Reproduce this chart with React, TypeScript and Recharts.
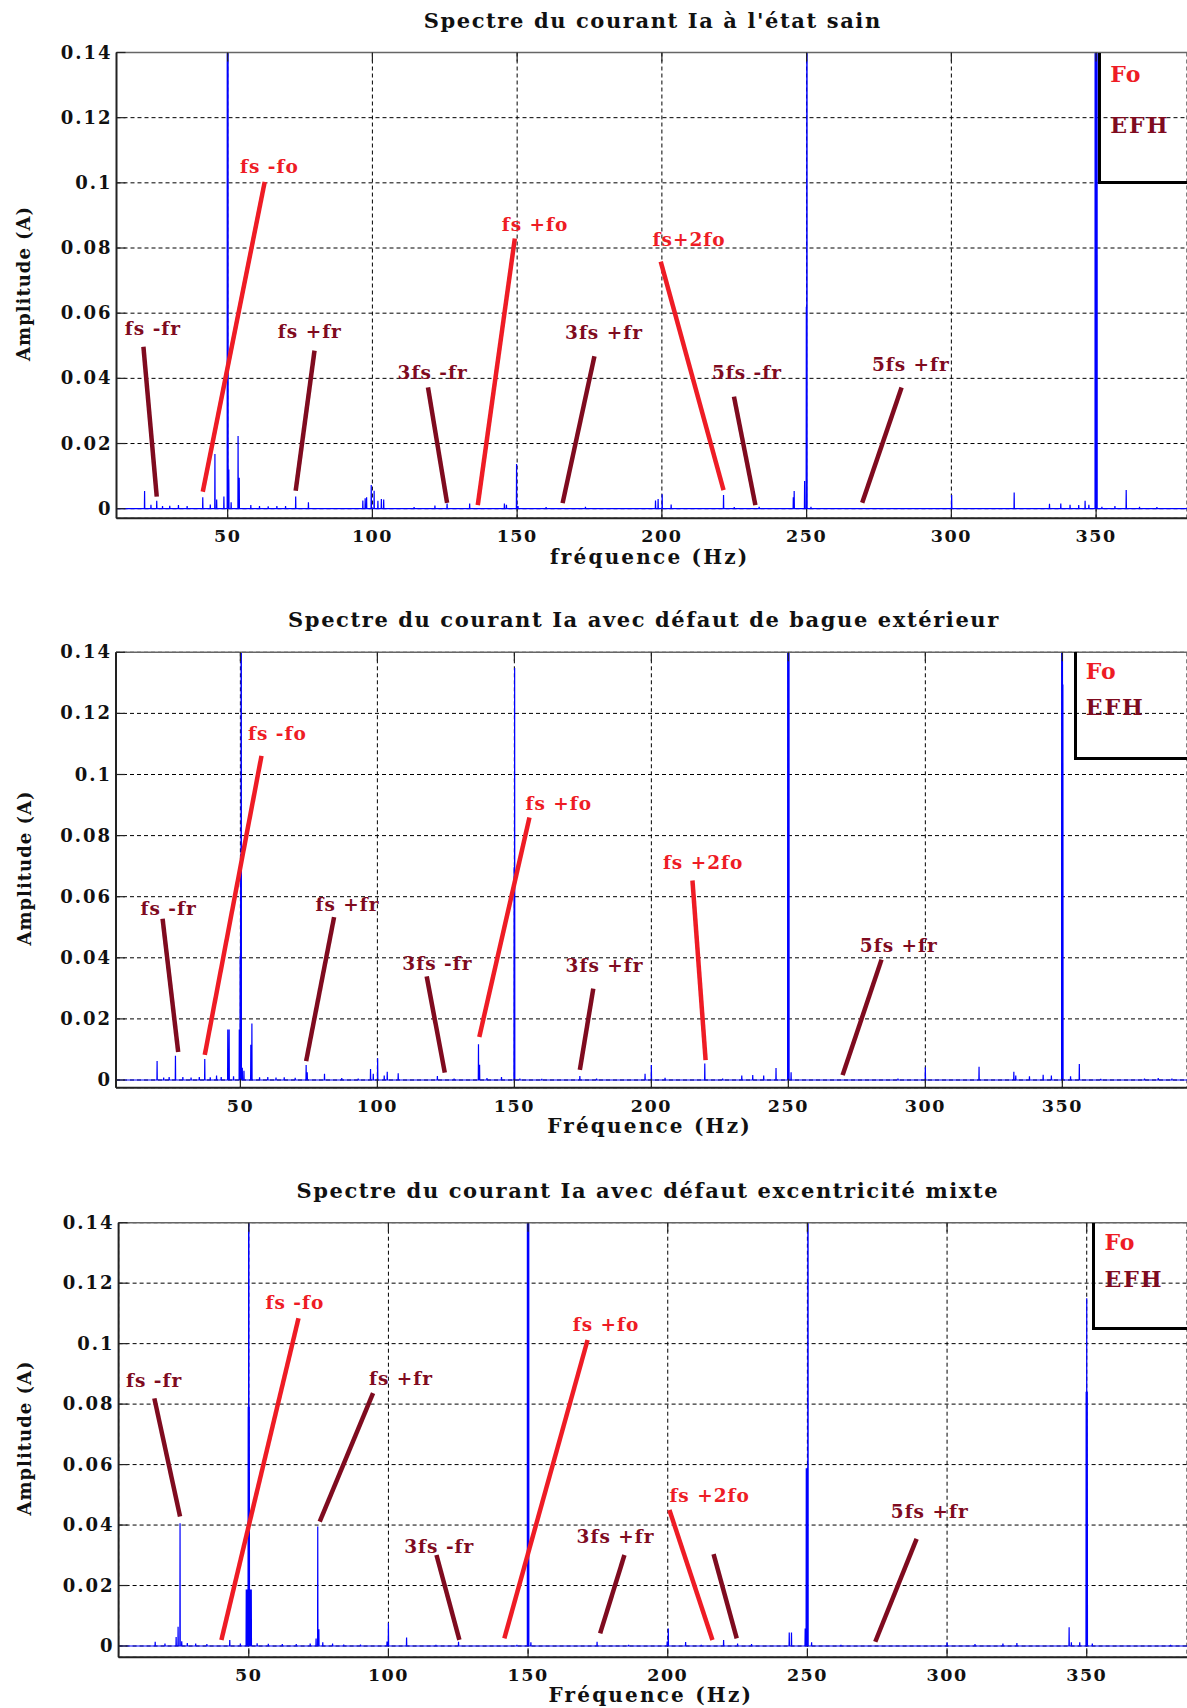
import React from 'react';
import { LineChart, Line, XAxis, YAxis, CartesianGrid, ReferenceLine, ReferenceDot } from 'recharts';

const FONT = '"DejaVu Serif", "Liberation Serif", serif';
const BLUE = '#0000ff';
const RED = '#ee1c25';
const DARK = '#7f0b1f';

const freqTicks = [50, 100, 150, 200, 250, 300, 350];
const ampTicks = [0, 0.02, 0.04, 0.06, 0.08, 0.1, 0.12, 0.14];

// spectral peaks [Hz, A] (0.5 = clipped, above the frame)
const sainPeaks: [number, number][] = [
  [21.3, 0.0054], [23.5, 0.0012], [25.5, 0.0024], [27.5, 0.0008], [30, 0.0009], [33, 0.0011], [36, 0.0008],
  [41.4, 0.0035], [44, 0.0013], [45.6, 0.0168], [46.2, 0.0028], [48.7, 0.0037], [49.9, 0.5], [50.1, 0.5],
  [50.4, 0.012], [51.2, 0.002], [53.6, 0.0223], [54.0, 0.0095], [58, 0.0011], [61, 0.0008], [64, 0.0007],
  [67, 0.0008], [70, 0.0008], [73.5, 0.0037], [77.9, 0.002], [96.7, 0.0025], [97.5, 0.0032], [98.0, 0.0035],
  [99.6, 0.0073], [100.6, 0.0055], [101.9, 0.0024], [103.1, 0.003], [103.9, 0.0028], [114.4, 0.0005],
  [121.6, 0.001], [125.8, 0.0016], [133.6, 0.0016], [145.6, 0.0016], [146.3, 0.0012], [149.8, 0.0137],
  [150.3, 0.0008], [160, 0.0005], [173.6, 0.0006], [197.8, 0.0025], [198.7, 0.003], [200.1, 0.0044],
  [203.2, 0.0013], [221.3, 0.0042], [225, 0.0005], [233.6, 0.0006], [245.4, 0.0035], [245.7, 0.0054],
  [249.3, 0.0085], [249.9, 0.062], [250.1, 0.5], [251.5, 0.0006], [300.1, 0.0042], [321.7, 0.005],
  [333.9, 0.0015], [337.8, 0.0016], [341, 0.0012], [344, 0.0011], [346.2, 0.0024], [347.5, 0.0012],
  [349.7, 0.5], [350, 0.5], [350.3, 0.5], [352, 0.0006], [356.5, 0.0008], [360.4, 0.0057], [365, 0.0006],
  [371, 0.0005],
];

const baguePeaks: [number, number][] = [
  [19.6, 0.0062], [22, 0.0008], [24, 0.001], [26.3, 0.0079], [29, 0.001], [32, 0.0008], [35, 0.001],
  [37.0, 0.0069], [39, 0.0009], [41.3, 0.0015], [43, 0.001], [45.4, 0.0165], [45.9, 0.0165], [47.5, 0.0012],
  [49.6, 0.0165], [49.9, 0.0405], [50.1, 0.074], [50.3, 0.5], [50.7, 0.004], [51.3, 0.003], [53.8, 0.0115],
  [54.2, 0.0185], [57, 0.0009], [60, 0.001], [63, 0.0008], [66, 0.0009], [70, 0.0007], [74.0, 0.0049],
  [74.4, 0.0025], [80.7, 0.002], [87, 0.0006], [93, 0.0005], [97.5, 0.0036], [98.5, 0.002], [100.1, 0.0071],
  [102.5, 0.0015], [103.6, 0.0027], [107.6, 0.0022], [121.9, 0.0013], [128, 0.0005], [136.9, 0.0117],
  [137.3, 0.005], [140, 0.0006], [145.3, 0.001], [149.9, 0.0696], [150.1, 0.1349], [152, 0.0005],
  [160, 0.0004], [173.9, 0.0013], [180, 0.0005], [197.7, 0.002], [200, 0.0049], [205, 0.0007],
  [219.5, 0.0054], [226, 0.0005], [233, 0.0015], [237, 0.0016], [241, 0.0015], [245.5, 0.0039],
  [249.8, 0.5], [250, 0.5], [250.2, 0.5], [251, 0.0025], [290, 0.0005], [300, 0.0042], [319.6, 0.0043],
  [332.3, 0.0027], [333, 0.0015], [338, 0.0012], [343, 0.0017], [346, 0.0015], [349.8, 0.5], [350, 0.5],
  [350.2, 0.1295], [353, 0.0012], [356.2, 0.0052], [364, 0.0004], [380, 0.0005], [385, 0.0006], [390, 0.0005],
];

const mixtePeaks: [number, number][] = [
  [16.5, 0.0014], [20, 0.0008], [24.0, 0.003], [24.7, 0.0064], [25.4, 0.0406], [26, 0.0016], [28, 0.001],
  [31, 0.0008], [35, 0.0006], [43.2, 0.002], [47, 0.0008], [49.1, 0.0187], [49.4, 0.0187], [49.8, 0.0791],
  [50, 0.5], [50.2, 0.0791], [50.6, 0.0187], [50.9, 0.0187], [53, 0.0009], [57, 0.0007], [62, 0.0006],
  [67, 0.0006], [72, 0.0008], [74.1, 0.0025], [74.7, 0.0395], [75.1, 0.0055], [76.5, 0.0012], [80, 0.0008],
  [84, 0.0005], [90, 0.0005], [99.5, 0.0015], [100, 0.0077], [106.5, 0.0028], [117, 0.0004], [125.1, 0.0014],
  [146, 0.0004], [149.8, 0.5], [150, 0.5], [150.2, 0.5], [151, 0.0012], [174.7, 0.0014], [186, 0.0004],
  [199.8, 0.0015], [200.2, 0.0058], [206.4, 0.0013], [212, 0.0004], [220, 0.002], [225, 0.0008], [230, 0.0006],
  [243.5, 0.0045], [244.3, 0.0045], [249.2, 0.0058], [249.6, 0.0588], [249.9, 0.0588], [250.2, 0.5],
  [251.5, 0.0012], [262, 0.0004], [300, 0.0012], [310, 0.0006], [320, 0.0008], [325, 0.001], [343.7, 0.0062],
  [344.5, 0.0012], [347.5, 0.0012], [349.8, 0.0841], [350, 0.115], [350.2, 0.0841], [352, 0.0008], [380, 0.0004],
];

// annotation pointers in data units: [text, kind, x1, y1, x2, y2, labelX, labelY]
type Note = [string, 'fo' | 'fr', number, number, number, number, number, number];

const sainNotes: Note[] = [
  ['fs -fr', 'fr', 20.9, 0.0497, 25.5, 0.0037, 24.2, 0.0551],
  ['fs -fo', 'fo', 62.8, 0.1003, 41.4, 0.0052, 64.4, 0.1049],
  ['fs +fr', 'fr', 80.0, 0.0485, 73.5, 0.0055, 78.4, 0.0541],
  ['3fs -fr', 'fr', 119.2, 0.0372, 125.8, 0.0018, 120.8, 0.0415],
  ['fs +fo', 'fo', 149.2, 0.0829, 136.4, 0.0011, 156.2, 0.087],
  ['3fs +fr', 'fr', 176.7, 0.0468, 165.7, 0.0017, 180, 0.0538],
  ['fs+2fo', 'fo', 199.6, 0.0758, 221.3, 0.0057, 209.4, 0.0824],
  ['5fs -fr', 'fr', 224.9, 0.0344, 232.3, 0.0011, 229.4, 0.0417],
  ['5fs +fr', 'fr', 282.8, 0.0372, 269.2, 0.0018, 286, 0.0441],
];

const bagueNotes: Note[] = [
  ['fs -fr', 'fr', 21.6, 0.0528, 27.3, 0.0092, 23.8, 0.056],
  ['fs -fo', 'fo', 57.7, 0.1061, 37.0, 0.0082, 63.5, 0.1132],
  ['fs +fr', 'fr', 84.2, 0.0533, 74.0, 0.0062, 89.1, 0.0574],
  ['3fs -fr', 'fr', 118, 0.0339, 124.6, 0.0024, 121.9, 0.0379],
  ['fs +fo', 'fo', 155.5, 0.0859, 137.2, 0.0141, 166.2, 0.0903],
  ['3fs +fr', 'fr', 178.8, 0.0299, 173.9, 0.0033, 182.9, 0.0372],
  ['fs +2fo', 'fo', 215, 0.0653, 219.8, 0.0065, 218.9, 0.0711],
  ['5fs +fr', 'fr', 284, 0.0394, 269.8, 0.0016, 290.3, 0.0438],
];

const mixteNotes: Note[] = [
  ['fs -fr', 'fr', 16.2, 0.0819, 25.4, 0.0428, 16.1, 0.0876],
  ['fs -fo', 'fo', 67.8, 0.1084, 40.2, 0.002, 66.5, 0.1133],
  ['fs +fr', 'fr', 94.5, 0.0836, 75.4, 0.0411, 104.5, 0.0883],
  ['3fs -fr', 'fr', 117.2, 0.0301, 125.4, 0.002, 118.2, 0.0326],
  ['fs +fo', 'fo', 171.3, 0.1012, 141.5, 0.0025, 177.9, 0.1062],
  ['3fs +fr', 'fr', 184.5, 0.0301, 175.8, 0.0042, 181.3, 0.0359],
  ['fs +2fo', 'fo', 200.6, 0.045, 216, 0.002, 215, 0.0496],
  ['', 'fr', 216.4, 0.0304, 224.7, 0.0025, 0, 0],
  ['5fs +fr', 'fr', 289.1, 0.0354, 274.3, 0.0014, 293.8, 0.0444],
];

// turn the peak list into a polyline: zero baseline with a narrow spike per bin
const spectrum = (peaks: [number, number][], lo: number, hi: number) => {
  const sorted = [...peaks].sort((a, b) => a[0] - b[0]);
  const pts = [{ f: lo, a: 0 }];
  sorted.forEach(([f, a]) => {
    pts.push({ f: f - 0.07, a: 0 }, { f, a }, { f: f + 0.07, a: 0 });
  });
  pts.push({ f: hi, a: 0 });
  return pts;
};

const fmt = (v: number) => String(Number(v.toFixed(2)));

const XTick = (props: any) => {
  const { x, y, payload } = props;
  return (
    <g>
      <line x1={x} x2={x} y1={y} y2={y - 9} stroke="#222" strokeWidth={1.2} />
      <text x={x} y={y + 24} textAnchor="middle" fontFamily={FONT} fontWeight="bold" fontSize={17.5}
        letterSpacing={1.5} fill="#111">{payload.value}</text>
    </g>
  );
};

const TopTick = (props: any) => {
  const { x, y } = props;
  return <line x1={x} x2={x} y1={y} y2={y + 9} stroke="#222" strokeWidth={1.2} />;
};

const YTick = (props: any) => {
  const { x, y, payload } = props;
  return (
    <g>
      <line x1={x} x2={x + 9} y1={y} y2={y} stroke="#222" strokeWidth={1.2} />
      <text x={x - 4} y={y + 6} textAnchor="end" fontFamily={FONT} fontWeight="bold" fontSize={18}
        letterSpacing={2} fill="#111">{fmt(payload.value)}</text>
    </g>
  );
};

interface PanelProps {
  top: number;
  height: number;
  plotLeft: number;
  plotTop: number;
  plotBottom: number;
  xDomain: [number, number];
  yMin: number;
  peaks: [number, number][];
  notes: Note[];
  title: string;
  titleDx: number;
  xLabel: string;
  xLabelDy: number;
  legendX: number;
  legendBottom: number;
  foY: number;
  efhY: number;
}

const Panel: React.FC<PanelProps> = (p) => {
  const data = spectrum(p.peaks, p.xDomain[0], p.xDomain[1]);
  const textStyle = { fontFamily: FONT, fontWeight: 'bold' as const };

  return (
    <div style={{ position: 'absolute', left: 0, top: p.top, width: 1187, height: p.height }}>
      <LineChart width={1187} height={p.height} data={data}
        margin={{ top: p.plotTop - 1, right: 0, bottom: 0, left: 0 }}>
        <CartesianGrid stroke="#000" strokeDasharray="4 3" strokeWidth={1} />
        <XAxis dataKey="f" type="number" domain={p.xDomain} allowDataOverflow ticks={freqTicks}
          height={p.height - p.plotBottom} tickSize={0} tickMargin={0} tick={<XTick />}
          axisLine={{ stroke: '#222', strokeWidth: 2 }} tickLine={false}
          label={{
            content: (lp: any) => (
              <text x={lp.viewBox.x + lp.viewBox.width / 2 - 2} y={lp.viewBox.y + p.xLabelDy}
                textAnchor="middle" {...textStyle} fontSize={20} letterSpacing={2.2} fill="#111">{p.xLabel}</text>
            ),
          }} />
        <XAxis xAxisId="top" orientation="top" dataKey="f" type="number" domain={p.xDomain} allowDataOverflow
          ticks={freqTicks} height={1} tickSize={0} tickMargin={0} tick={<TopTick />} tickLine={false}
          axisLine={{ stroke: '#666', strokeWidth: 1.5 }}
          label={{
            content: (lp: any) => (
              <text x={lp.viewBox.x + lp.viewBox.width / 2 + p.titleDx} y={p.plotTop - 25}
                textAnchor="middle" {...textStyle} fontSize={21} letterSpacing={1.6} fill="#111">{p.title}</text>
            ),
          }} />
        <YAxis type="number" domain={[p.yMin, 0.14]} allowDataOverflow ticks={ampTicks} width={p.plotLeft}
          tickSize={0} tickMargin={0} tick={<YTick />} tickLine={false}
          axisLine={{ stroke: '#222', strokeWidth: 2 }}
          label={{
            content: (lp: any) => {
              const cx = 24;
              const cy = lp.viewBox.y + lp.viewBox.height / 2 - 2;
              return (
                <text x={cx} y={cy} transform={`rotate(-90, ${cx}, ${cy})`} textAnchor="middle"
                  dominantBaseline="central" {...textStyle} fontSize={18} letterSpacing={1} fill="#111">
                  Amplitude (A)
                </text>
              );
            },
          }} />
        <Line type="linear" dataKey="a" stroke={BLUE} strokeWidth={1.2} dot={false} activeDot={false}
          isAnimationActive={false} />
        {p.notes.map((n, i) => (
          <ReferenceLine key={`seg${i}`} segment={[{ x: n[2], y: n[3] }, { x: n[4], y: n[5] }]}
            stroke={n[1] === 'fo' ? RED : DARK} strokeWidth={4.5} />
        ))}
        {p.notes.filter((n) => n[0]).map((n, i) => (
          <ReferenceDot key={`lab${i}`} x={n[6]} y={n[7]} r={0}
            shape={(sp: any) => (
              <text x={sp.cx} y={sp.cy + 6} textAnchor="middle" {...textStyle} fontSize={18.5} letterSpacing={1}
                fill={n[1] === 'fo' ? RED : DARK}>{n[0]}</text>
            )} />
        ))}
      </LineChart>
      <div style={{
        position: 'absolute', left: p.legendX - 1.75, top: p.plotTop, width: 1187 - p.legendX + 1.75,
        height: p.legendBottom - p.plotTop, borderLeft: '3.5px solid #000', borderBottom: '3.5px solid #000',
        boxSizing: 'border-box',
      }}>
        <div style={{ position: 'absolute', left: 9, top: p.foY - p.plotTop - 12, lineHeight: '24px',
          fontFamily: FONT, fontWeight: 'bold', fontSize: 22, letterSpacing: 1, color: RED }}>Fo</div>
        <div style={{ position: 'absolute', left: 9, top: p.efhY - p.plotTop - 12, lineHeight: '24px',
          fontFamily: FONT, fontWeight: 'bold', fontSize: 22, letterSpacing: 2, color: DARK }}>EFH</div>
      </div>
    </div>
  );
};

export default function App() {
  return (
    <div style={{ position: 'absolute', left: 0, top: 0, width: 1187, height: 1708, background: '#fff' }}>
      <Panel top={0} height={580} plotLeft={116.5} plotTop={52.5} plotBottom={518.3} xDomain={[11.6, 381.4]}
        yMin={-0.00295} peaks={sainPeaks} notes={sainNotes} title="Spectre du courant Ia à l'état sain" titleDx={1}
        xLabel="fréquence (Hz)" xLabelDy={46} legendX={1100} legendBottom={184} foY={73.5} efhY={125} />
      <Panel top={600} height={545} plotLeft={116} plotTop={52.3} plotBottom={487.7} xDomain={[4.6, 395.5]}
        yMin={-0.00252} peaks={baguePeaks} notes={bagueNotes}
        title="Spectre du courant Ia avec défaut de bague extérieur" titleDx={-7.5}
        xLabel="Fréquence (Hz)" xLabelDy={45} legendX={1075.4} legendBottom={160} foY={71} efhY={107.5} />
      <Panel top={1170} height={538} plotLeft={118.6} plotTop={52.7} plotBottom={487.3} xDomain={[3.4, 385.9]}
        yMin={-0.00374} peaks={mixtePeaks} notes={mixteNotes}
        title="Spectre du courant Ia avec défaut excentricité mixte" titleDx={-5}
        xLabel="Fréquence (Hz)" xLabelDy={45} legendX={1094.2} legendBottom={160} foY={72.5} efhY={109} />
    </div>
  );
}
